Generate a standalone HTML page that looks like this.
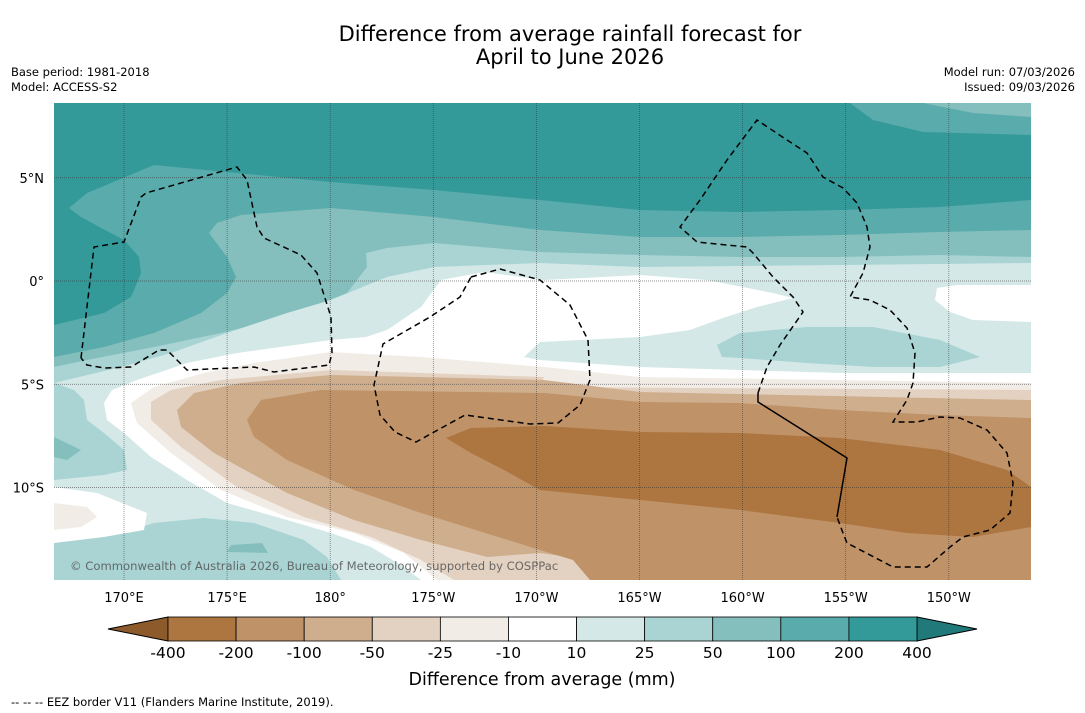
<!DOCTYPE html>
<html><head><meta charset="utf-8"><style>
body{margin:0;background:#fff;width:1085px;height:713px;overflow:hidden;font-family:"DejaVu Sans","Liberation Sans",sans-serif;}
svg{display:block}
</style></head><body>
<svg id="fig" width="1085" height="713" viewBox="0 0 1085 713" xmlns="http://www.w3.org/2000/svg" font-family="DejaVu Sans, Liberation Sans, sans-serif">
<rect width="1085" height="713" fill="#fff"/>
<text x="570" y="41" font-size="21" text-anchor="middle" fill="#000">Difference from average rainfall forecast for</text>
<text x="570" y="64" font-size="21" text-anchor="middle" fill="#000">April to June 2026</text>
<text x="11" y="76" font-size="11.5">Base period: 1981-2018</text>
<text x="11" y="91" font-size="11.5">Model: ACCESS-S2</text>
<text x="1075" y="76" font-size="11.5" text-anchor="end">Model run: 07/03/2026</text>
<text x="1075" y="91" font-size="11.5" text-anchor="end">Issued: 09/03/2026</text>
<defs><clipPath id="mc"><rect x="54" y="103" width="977" height="477"/></clipPath></defs>
<g id="map" clip-path="url(#mc)">
<rect x="54" y="103" width="977" height="477" fill="#339999"/>
<polygon fill="#5aabab" points="54,325 104,313 131,297 141,273 139,257 124,240 101,228 81,217 69,208 87,193 154,165 227,172 331,182 434,190 540,200 640,210 740,212 840,210 940,207 1031,200 1031,580 54,580"/>
<polygon fill="#5aabab" points="850,103 873,120 923,132 1031,135 1031,103"/>
<polygon fill="#84bfbe" points="923,103 973,113 1031,117 1031,103"/>
<polygon fill="#84bfbe" points="54,357 104,347 154,333 201,313 227,293 236,277 227,257 209,233 217,223 241,215 331,208 434,217 540,230 640,237 740,237 840,235 940,232 1031,230 1031,580 54,580"/>
<polygon fill="#a9d4d3" points="54,367 87,360 154,347 221,333 287,317 347,293 367,267 366,253 387,248 434,243 540,252 640,255 740,257 840,257 940,255 1031,257 1031,580 54,580"/>
<polygon fill="#d4e8e7" points="54,383 121,367 171,353 227,333 287,313 331,300 387,277 434,267 540,263 640,267 1031,263 1031,580 54,580"/>
<polygon fill="#a9d4d3" points="54,383 74,390 84,400 87,420 104,433 124,450 127,470 104,475 54,480"/>
<polygon fill="#84bfbe" points="54,437 81,450 67,460 54,457"/>
<polygon fill="#ffffff" points="104,403 112,390 137,380 187,363 237,353 331,340 366,337 387,330 421,307 441,280 484,272 544,280 640,275 707,280 773,293 793,298 757,307 723,318 690,330 640,337 540,342 524,357 540,360 640,367 740,370 840,373 940,373 1031,373 1031,580 421,580 404,567 371,547 331,533 287,520 227,503 187,480 151,457 124,433 107,420"/>
<polygon fill="#ffffff" points="937,288 957,285 1031,285 1031,322 973,320 950,312 935,300"/>
<polygon fill="#a9d4d3" points="717,345 740,333 807,327 873,327 940,340 980,357 940,367 873,367 807,363 740,358 722,357"/>
<polygon fill="#a9d4d3" points="54,543 121,533 154,523 204,518 254,523 304,540 327,557 341,580 54,580"/>
<polygon fill="#84bfbe" points="227,552 231,545 262,543 268,553"/>
<polygon fill="#ffffff" points="54,487 97,493 147,513 144,530 104,537 54,543"/>
<polygon fill="#f2ece6" points="54,503 87,507 97,517 81,527 54,530"/>
<polygon fill="#f2ece6" points="131,403 154,387 204,373 254,363 331,352 421,357 544,367 640,377 1031,383 1031,580 437,580 404,553 354,533 287,517 221,490 171,453 137,423"/>
<polygon fill="#e3d2c1" points="151,402 171,390 221,380 331,370 544,377 540,387 1031,390 1031,580 454,580 421,560 371,537 304,517 237,487 181,447 151,420"/>
<polygon fill="#cfae8e" points="177,410 194,393 241,383 331,375 544,380 640,392 1031,400 1031,580 663,580 640,567 540,553 487,557 421,540 354,520 287,493 214,453 181,427"/>
<polygon fill="#bf9268" points="247,420 261,400 321,390 544,393 640,402 740,403 840,410 940,415 1031,418 1031,580 590,580 573,560 540,550 421,513 354,490 287,460 254,437"/>
<polygon fill="#ad753f" points="446,438 471,428 544,426 640,432 740,433 840,438 940,450 1007,470 1031,487 1031,527 973,537 907,533 840,523 740,510 640,500 540,490 504,470 471,453"/>
<g id="grid" stroke="#333" stroke-width="0.7" stroke-dasharray="1,1" opacity="0.7"></g>
<g fill="none" stroke="#000" stroke-width="1.5" stroke-dasharray="6,4">
<polyline points="81,358 94,247 124,242 141,197 146,193 237,167 247,180 257,227 264,238 301,255 317,273 331,317 332,353 329,365 274,372 254,367 187,370 167,350 159,350 131,367 104,368 87,365 81,358"/>
<polyline points="471,277 500,269 540,280 570,305 588,340 590,380 580,405 558,423 530,424 465,415 416,442 395,432 380,415 374,385 383,344 430,317 460,297 471,277"/>
<polyline points="758,393 767,367 780,345 803,312 793,297 773,277 753,253 747,247 697,242 680,227 700,200 727,160 757,120 787,140 807,153 823,177 843,188 857,203 867,227 870,247 863,273 850,297 870,300 890,310 907,328 915,353 913,383 907,400 893,422 917,422 940,417 960,418 987,430 1007,453 1013,483 1010,513 990,530 963,537 950,547 927,567 893,567 847,543 843,533 837,517"/>
</g>
<polyline fill="none" stroke="#000" stroke-width="1.5" points="837,517 847,458 758,402 758,393"/>
<text x="70" y="570" font-size="11.6" fill="#555" opacity="0.85">© Commonwealth of Australia 2026, Bureau of Meteorology, supported by COSPPac</text>
</g>
<g id="axes"></g>
<g id="colorbar"></g>
<text x="542" y="685" font-size="17.5" text-anchor="middle">Difference from average (mm)</text>
<text x="11" y="706" font-size="11.5">--  --  -- EEZ border V11 (Flanders Marine Institute, 2019).</text>
</svg>
<script>
const lonTicks = [170, 175, 180, -175, -170, -165, -160, -155, -150];
const lonLabels = ["170°E","175°E","180°","175°W","170°W","165°W","160°W","155°W","150°W"];
const latTicks = [5, 0, -5, -10];
const latLabels = ["5°N","0°","5°S","10°S"];
const levels = [-400,-200,-100,-50,-25,-10,10,25,50,100,200,400];
const levelColors = ["#ad753f","#bf9268","#cfae8e","#e3d2c1","#f2ece6","#ffffff","#d4e8e7","#a9d4d3","#84bfbe","#5aabab","#339999"];
const NS="http://www.w3.org/2000/svg";
function xLon(l){ const e = l<0 ? 360+l : l; return 124 + (e-170)*20.62; }
function yLat(l){ return 281 - l*20.65; }
function mk(t,a,p){const e=document.createElementNS(NS,t);for(const k in a)e.setAttribute(k,a[k]);p.appendChild(e);return e;}
const grid=document.getElementById('grid'), axes=document.getElementById('axes'), cb=document.getElementById('colorbar');
lonTicks.forEach((l,i)=>{const x=xLon(l);
 const g=mk('line',{x1:x,x2:x,y1:103,y2:580},grid);
 
 
 const t=mk('text',{x:x,y:602,'font-size':13,'text-anchor':'middle'},axes);t.textContent=lonLabels[i];
 
 });
latTicks.forEach((l,i)=>{const y=yLat(l);
 const g=mk('line',{x1:54,x2:1031,y1:y,y2:y},grid);
 
 
 const t=mk('text',{x:44,y:y+5,'font-size':13,'text-anchor':'end'},axes);t.textContent=latLabels[i];
 
 });
const x0=168,x1=917,y0=617,y1=641,w=(x1-x0)/levelColors.length;
const lt=mk('polygon',{points:`${x0},${y0} 108,${(y0+y1)/2} ${x0},${y1}`,fill:'#8c5a2b',stroke:'#000','stroke-width':1},cb);


const rt=mk('polygon',{points:`${x1},${y0} 977,${(y0+y1)/2} ${x1},${y1}`,fill:'#217979',stroke:'#000','stroke-width':1},cb);


levelColors.forEach((c,i)=>{const r=mk('rect',{x:x0+i*w,y:y0,width:w,height:y1-y0,fill:c,stroke:'#000','stroke-width':0.8},cb);
 
 });
levels.forEach((v,i)=>{const t=mk('text',{x:x0+i*w,y:658,'font-size':15.5,'text-anchor':'middle'},cb);t.textContent=v;
 
 });
</script>
</body></html>
